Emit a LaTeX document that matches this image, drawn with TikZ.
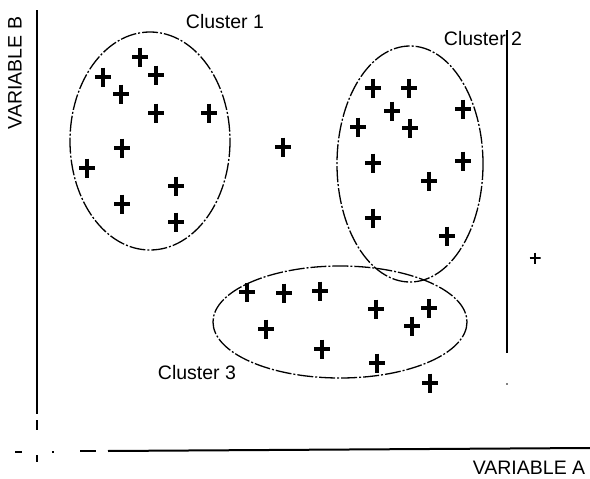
\documentclass[tikz,border=0pt]{standalone}
\usepackage{fontspec}
\setmainfont{Liberation Sans}
\tikzset{
    pt/.style={inner sep=0pt, minimum width=16pt, minimum height=19pt, path picture={
        \draw[line width=3.6pt] (path picture bounding box.north) -- (path picture bounding box.south)
            (path picture bounding box.west) -- (path picture bounding box.east);}},
    smallpt/.style={inner sep=0pt, minimum size=11pt, path picture={
        \draw[line width=1.1pt] (path picture bounding box.north) -- (path picture bounding box.south)
            (path picture bounding box.west) -- (path picture bounding box.east);}},
    clus/.style={line width=1.3pt, dash pattern=on 16pt off 2pt on 2pt off 2pt},
    axis/.style={line width=2pt},
    lbl/.style={inner sep=0pt, font=\fontsize{19.5}{22}\selectfont}
}
\begin{document}
\begin{tikzpicture}[x=1pt,y=-1pt]
\useasboundingbox (0,0) rectangle (590,479);
% axes
\draw[axis] (37,10) -- (37,414);
\draw[axis] (37,420) -- (37,430);
\draw[axis] (37,455) -- (37,462);
\draw[axis] (15,452) -- (22,452);
\draw[axis] (52,452) -- (54,452);
\draw[axis] (80,451) -- (96,451);
\draw[axis] (108,451) -- (590,448);
\node[lbl,rotate=90] (varb) at (15,73) {VARIABLE B};
\node[lbl] (vara) at (529,468) {VARIABLE A};
% separating line
\draw[line width=1.6pt] (507,30) -- (507,353);
\fill (507,384) circle (0.8pt);
% clusters
\draw[clus] (150,141) ellipse [x radius=80, y radius=109];
\draw[clus] (410,164) ellipse [x radius=73, y radius=118];
\draw[clus] (340,322) ellipse [x radius=127, y radius=56];
\node[lbl] (c1) at (225,22) {Cluster 1};
\node[lbl] (c2) at (483,39) {Cluster 2};
\node[lbl] (c3) at (197,373) {Cluster 3};
% cluster 1 points
\node[pt] (a1) at (140,57) {};
\node[pt] (a2) at (156,75) {};
\node[pt] (a3) at (103,77) {};
\node[pt] (a4) at (121,94) {};
\node[pt] (a5) at (156,113) {};
\node[pt] (a6) at (209,113) {};
\node[pt] (a7) at (122,148) {};
\node[pt] (a8) at (87,168) {};
\node[pt] (a9) at (176,186) {};
\node[pt] (a10) at (122,204) {};
\node[pt] (a11) at (176,222) {};
% cluster 2 points
\node[pt] (b1) at (373,88) {};
\node[pt] (b2) at (409,88) {};
\node[pt] (b3) at (392,111) {};
\node[pt] (b4) at (463,109) {};
\node[pt] (b5) at (358,127) {};
\node[pt] (b6) at (410,128) {};
\node[pt] (b7) at (373,163) {};
\node[pt] (b8) at (463,161) {};
\node[pt] (b9) at (429,181) {};
\node[pt] (b10) at (373,218) {};
\node[pt] (b11) at (447,236) {};
% cluster 3 points
\node[pt] (d1) at (247,292) {};
\node[pt] (d2) at (284,293) {};
\node[pt] (d3) at (266,329) {};
\node[pt] (d4) at (320,291) {};
\node[pt] (d5) at (376,309) {};
\node[pt] (d6) at (429,308) {};
\node[pt] (d7) at (412,326) {};
\node[pt] (d8) at (322,349) {};
\node[pt] (d9) at (377,363) {};
\node[pt] (d10) at (430,383) {};
% outliers
\node[pt] (o1) at (283,147) {};
\node[smallpt] (o2) at (535,258) {};
\end{tikzpicture}
\end{document}
